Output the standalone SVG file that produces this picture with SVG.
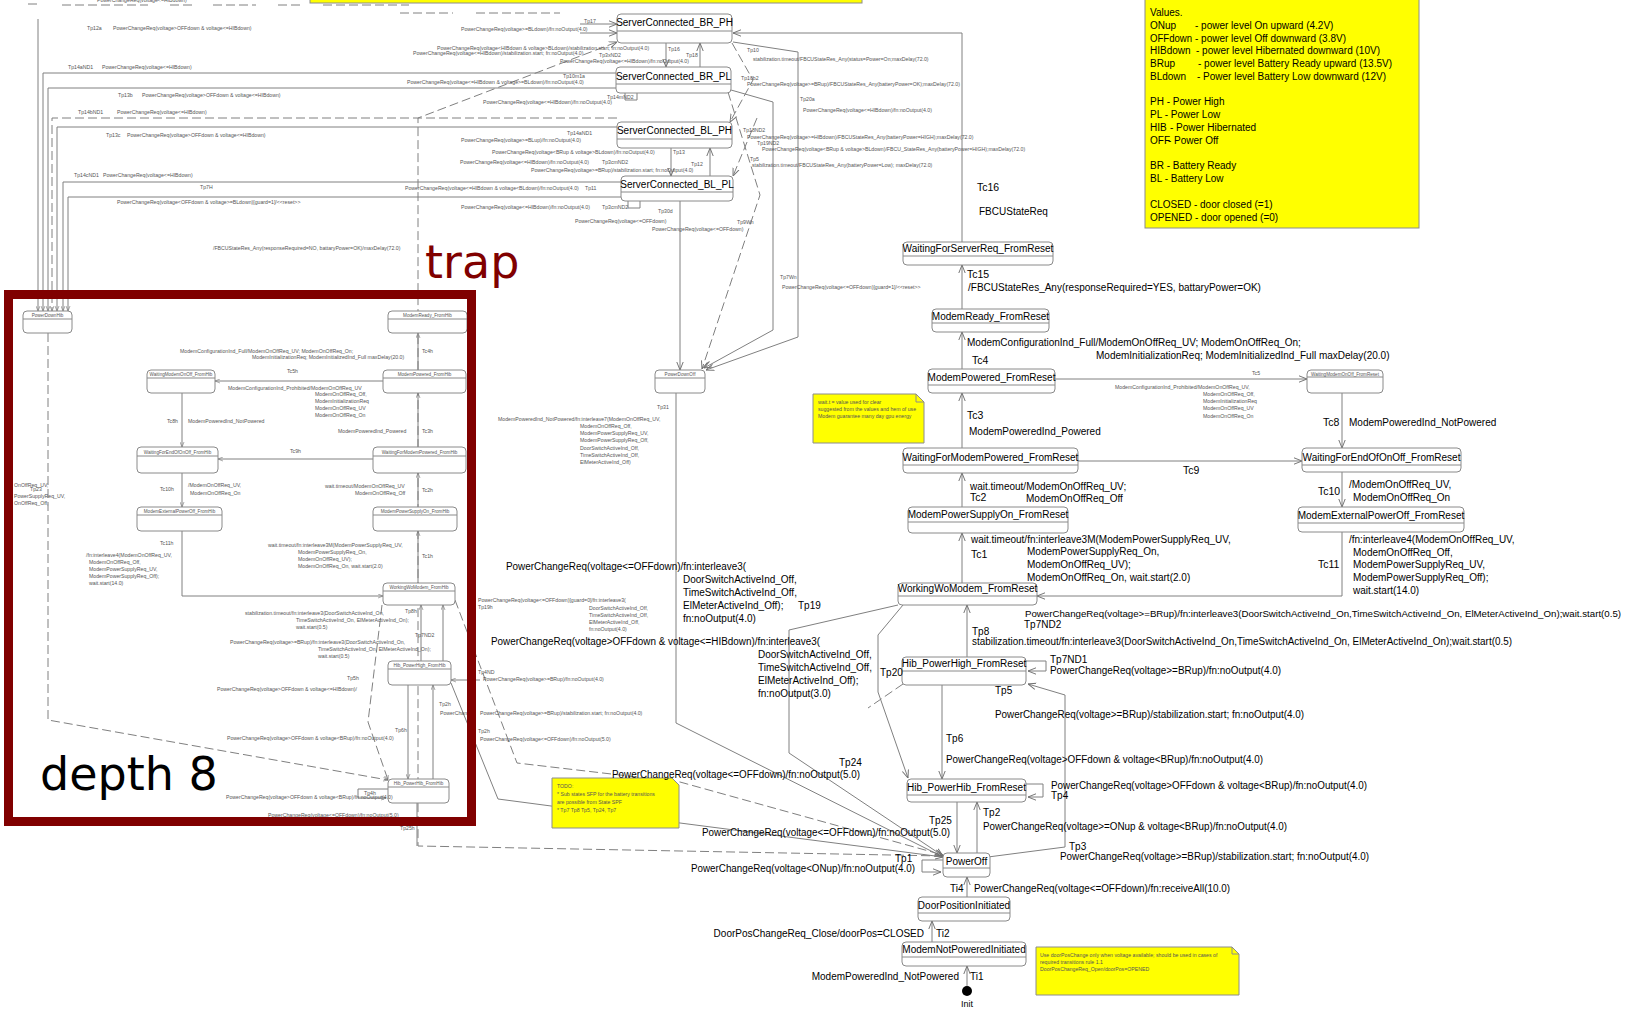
<svg xmlns="http://www.w3.org/2000/svg" width="1628" height="1009" viewBox="0 0 1628 1009">
<defs>
<marker id="ar" viewBox="0 0 10 10" refX="10" refY="5" markerWidth="8" markerHeight="8" orient="auto" markerUnits="userSpaceOnUse"><path d="M0,1 L10,5 L0,9" fill="none" stroke="#707070" stroke-width="1.2"/></marker>
<marker id="as" viewBox="0 0 10 10" refX="10" refY="5" markerWidth="5" markerHeight="5" orient="auto" markerUnits="userSpaceOnUse"><path d="M0,1 L10,5 L0,9" fill="none" stroke="#707070" stroke-width="1.2"/></marker>
</defs>
<style>
text{font-family:"Liberation Sans",Arial,sans-serif}
.l{font-size:10px;fill:#000}
.tc{font-size:10.5px;fill:#000}
.ti{font-size:5.2px;fill:#555}
.v{font-size:10px;fill:#000}
.nd rect.b{fill:#fff;stroke:#8a8a8a;stroke-width:1}
.nd line{stroke:#8a8a8a;stroke-width:1}
.nd text{font-size:10px;text-anchor:middle;fill:#000}
.sm text{font-size:4.6px;fill:#555}
.c path{fill:none;stroke:#808080;stroke-width:1;marker-end:url(#ar)}
.c path.s{marker-end:url(#as)}
.c path.n{marker-end:none}
.c path.d{stroke-dasharray:9 4}
.note{fill:#ffff00;stroke:#8c8c8c;stroke-width:1}
.big{font-family:"DejaVu Sans",sans-serif;font-size:46px}
</style>
<rect width="1628" height="1009" fill="#fff"/>

<!-- connectors -->
<g id="connectors" class="c">
  <path class="n d" d="M28,4 H38 M62,5 H148 M170,5 H192 M213,5 H256 M278,5 H300 M323,5 H409 M400,13 H453 M476,13 H560"/>
  <path class="s" d="M38,19 V311"/>
  <path class="s" d="M616,73 H43 V311"/>
  <path class="s" d="M616,88 H48 V311"/>
  <path class="s d" d="M617,118 H52 V311"/>
  <path class="s" d="M617,127 H57 V311"/>
  <path class="s" d="M621,182 H63 V311"/>
  <path class="s" d="M621,197 H68 V311"/>
  <path d="M580,24 H617"/>
  <path d="M580,33 H617"/>
  <path d="M666,43 V67"/>
  <path d="M700,67 V43"/>
  <path d="M671,148 V176"/>
  <path d="M710,176 V148"/>
  <path class="n" d="M625,93 V100 H637 V93"/>
  <path class="n" d="M628,201 V208 H640 V201"/>
  <path class="d" d="M732,43 L753,80 L730,122"/>
  <path class="d" d="M757,118 L733,176"/>
  <path class="d" d="M728,92 L760,195 L702,369"/>
  <path d="M733,42 L798,52 V337 L706,370"/>
  <path d="M731,90 L773,102 V330 L704,368"/>
  <path d="M680,201 V370"/>
  <path d="M943,856 L418,846 V118 L617,42" class="d"/>
  <path d="M962,242 V33 H733"/>
  <path d="M962,309 V265"/>
  <path d="M962,369 V332"/>
  <path d="M962,448 V393"/>
  <path d="M962,507 V473"/>
  <path d="M962,583 V533"/>
  <path d="M1055,379 H1307"/>
  <path d="M1342,393 V448"/>
  <path d="M1078,461 H1302"/>
  <path d="M1342,472 V507"/>
  <path d="M1342,532 V596 H1037"/>
  <path d="M967,657 V605"/>
  <path d="M1026,661 H1046 V671 H1028"/>
  <path d="M942,685 V779"/>
  <path d="M988,857 L1065,847 V695 L1028,684"/>
  <path d="M1026,784 H1043 V797 H1028"/>
  <path d="M957,802 V853"/>
  <path d="M977,853 V802"/>
  <path d="M943,860 H922 V872 H941"/>
  <path d="M967,897 V877"/>
  <path d="M932,942 V921"/>
  <path d="M967,986 V966"/>
  <path d="M898,605 L789,630 V753 L943,856"/>
  <path d="M903,605 L878,635 V692 L908,778"/>
  <path class="n d" d="M903,684 L868,708"/>
  <path d="M676,393 V723 L943,857"/>
  <path class="d" d="M455,600 L517,763 L680,782 L943,855"/>
  <path d="M451,683 L498,799 L680,823 L943,857"/>
  <path class="s" d="M418,370 V333"/>
  <path class="s" d="M383,381 H215"/>
  <path class="s" d="M182,393 V447"/>
  <path class="s" d="M418,447 V393"/>
  <path class="s" d="M373,459 H218"/>
  <path class="s" d="M418,507 V473"/>
  <path class="s" d="M182,473 V507"/>
  <path class="s" d="M418,583 V531"/>
  <path class="s" d="M182,531 V596 H383"/>
  <path class="s" d="M421,661 V605"/>
  <path class="s" d="M443,661 V605"/>
  <path class="s" d="M408,685 V779"/>
  <path class="s" d="M433,779 V685"/>
  <path class="s" d="M388,789 H358 V798 H386"/>
  <path class="s d" d="M48,333 V720 L388,780"/>
  <path class="s d" d="M382,605 L368,722 L388,780"/>
  <path class="n" d="M417,803 V846"/>
  <path class="s" d="M480,680 H451"/>
</g>

<!-- main nodes -->
<g id="ServerConnected_BR_PH" class="nd"><rect class="b" x="617" y="14" width="115" height="29" rx="4"/><line x1="617" y1="31" x2="732" y2="31"/><text x="674.5" y="26">ServerConnected_BR_PH</text></g>
<g id="ServerConnected_BR_PL" class="nd"><rect class="b" x="616" y="67" width="115" height="26" rx="4"/><line x1="616" y1="84" x2="731" y2="84"/><text x="673.5" y="80">ServerConnected_BR_PL</text></g>
<g id="ServerConnected_BL_PH" class="nd"><rect class="b" x="617" y="122" width="115" height="26" rx="4"/><line x1="617" y1="139" x2="732" y2="139"/><text x="674.5" y="134">ServerConnected_BL_PH</text></g>
<g id="ServerConnected_BL_PL" class="nd"><rect class="b" x="621" y="176" width="112" height="25" rx="4"/><line x1="621" y1="192" x2="733" y2="192"/><text x="677" y="188">ServerConnected_BL_PL</text></g>
<g id="WaitingForServerReq_FromReset" class="nd"><rect class="b" x="903" y="242" width="150" height="23" rx="4"/><line x1="903" y1="256" x2="1053" y2="256"/><text x="978" y="252">WaitingForServerReq_FromReset</text></g>
<g id="ModemReady_FromReset" class="nd"><rect class="b" x="932" y="309" width="117" height="23" rx="4"/><line x1="932" y1="323" x2="1049" y2="323"/><text x="990.5" y="320">ModemReady_FromReset</text></g>
<g id="ModemPowered_FromReset" class="nd"><rect class="b" x="928" y="369" width="127" height="24" rx="4"/><line x1="928" y1="385" x2="1055" y2="385"/><text x="991.5" y="380.5">ModemPowered_FromReset</text></g>
<g id="WaitingForModemPowered_FromReset" class="nd"><rect class="b" x="903" y="448" width="175" height="25" rx="4"/><line x1="903" y1="465" x2="1078" y2="465"/><text x="990.5" y="460.5">WaitingForModemPowered_FromReset</text></g>
<g id="ModemPowerSupplyOn_FromReset" class="nd"><rect class="b" x="908" y="507" width="160" height="26" rx="4"/><line x1="908" y1="522" x2="1068" y2="522"/><text x="988" y="517.5">ModemPowerSupplyOn_FromReset</text></g>
<g id="WorkingWoModem_FromReset" class="nd"><rect class="b" x="898" y="583" width="139" height="22" rx="4"/><line x1="898" y1="596" x2="1037" y2="596"/><text x="967.5" y="592">WorkingWoModem_FromReset</text></g>
<g id="WaitingModemOnOff_FromReset" class="nd sm"><rect class="b" x="1307" y="370" width="76" height="23" rx="4"/><line x1="1307" y1="377" x2="1383" y2="377"/><text x="1345" y="375.5">WaitingModemOnOff_FromReset</text></g>
<g id="WaitingForEndOfOnOff_FromReset" class="nd"><rect class="b" x="1302" y="448" width="159" height="24" rx="4"/><line x1="1302" y1="465" x2="1461" y2="465"/><text x="1381.5" y="460.5">WaitingForEndOfOnOff_FromReset</text></g>
<g id="ModemExternalPowerOff_FromReset" class="nd"><rect class="b" x="1298" y="507" width="166" height="25" rx="4"/><line x1="1298" y1="523" x2="1464" y2="523"/><text x="1381" y="518.5">ModemExternalPowerOff_FromReset</text></g>
<g id="Hib_PowerHigh_FromReset" class="nd"><rect class="b" x="902" y="657" width="124" height="28" rx="4"/><line x1="902" y1="671" x2="1026" y2="671"/><text x="964" y="666.5">Hib_PowerHigh_FromReset</text></g>
<g id="Hib_PowerHib_FromReset" class="nd"><rect class="b" x="907" y="779" width="119" height="23" rx="4"/><line x1="907" y1="795" x2="1026" y2="795"/><text x="966.5" y="790.5">Hib_PowerHib_FromReset</text></g>
<g id="PowerOff" class="nd"><rect class="b" x="943" y="853" width="47" height="24" rx="4"/><line x1="943" y1="868" x2="990" y2="868"/><text x="966.5" y="864.5">PowerOff</text></g>
<g id="DoorPositionInitiated" class="nd"><rect class="b" x="918" y="897" width="92" height="24" rx="4"/><line x1="918" y1="913" x2="1010" y2="913"/><text x="964" y="908.5">DoorPositionInitiated</text></g>
<g id="ModemNotPoweredInitiated" class="nd"><rect class="b" x="902" y="942" width="124" height="24" rx="4"/><line x1="902" y1="957" x2="1026" y2="957"/><text x="964" y="952.5">ModemNotPoweredInitiated</text></g>
<g id="Init"><circle cx="967" cy="991" r="5" fill="#000"/><text x="967" y="1007" text-anchor="middle" style="font-size:9px">Init</text></g>
<g id="PowerDownOff" class="nd sm"><rect class="b" x="655" y="370" width="50" height="23" rx="4"/><line x1="655" y1="378" x2="705" y2="378"/><text x="680" y="376">PowerDownOff</text></g>

<!-- frame nodes -->
<g id="PowerDownHib" class="nd sm"><rect class="b" x="23" y="311" width="49" height="22" rx="4"/><line x1="23" y1="319" x2="72" y2="319"/><text x="47.5" y="317">PowerDownHib</text></g>
<g id="ModemReady_FromHib" class="nd sm"><rect class="b" x="388" y="311" width="79" height="22" rx="4"/><line x1="388" y1="319" x2="467" y2="319"/><text x="427.5" y="317">ModemReady_FromHib</text></g>
<g id="ModemPowered_FromHib" class="nd sm"><rect class="b" x="383" y="370" width="83" height="23" rx="4"/><line x1="383" y1="378" x2="466" y2="378"/><text x="424.5" y="376">ModemPowered_FromHib</text></g>
<g id="WaitingModemOnOff_FromHib" class="nd sm"><rect class="b" x="147" y="370" width="68" height="23" rx="4"/><line x1="147" y1="378" x2="215" y2="378"/><text x="181" y="376">WaitingModemOnOff_FromHib</text></g>
<g id="WaitingForModemPowered_FromHib" class="nd sm"><rect class="b" x="373" y="447" width="93" height="26" rx="4"/><line x1="373" y1="456" x2="466" y2="456"/><text x="419.5" y="454">WaitingForModemPowered_FromHib</text></g>
<g id="WaitingForEndOfOnOff_FromHib" class="nd sm"><rect class="b" x="137" y="447" width="81" height="26" rx="4"/><line x1="137" y1="456" x2="218" y2="456"/><text x="177.5" y="454">WaitingForEndOfOnOff_FromHib</text></g>
<g id="ModemPowerSupplyOn_FromHib" class="nd sm"><rect class="b" x="373" y="507" width="84" height="24" rx="4"/><line x1="373" y1="515" x2="457" y2="515"/><text x="415" y="513">ModemPowerSupplyOn_FromHib</text></g>
<g id="ModemExternalPowerOff_FromHib" class="nd sm"><rect class="b" x="137" y="507" width="85" height="24" rx="4"/><line x1="137" y1="515" x2="222" y2="515"/><text x="179.5" y="513">ModemExternalPowerOff_FromHib</text></g>
<g id="WorkingWoModem_FromHib" class="nd sm"><rect class="b" x="383" y="583" width="72" height="22" rx="4"/><line x1="383" y1="591" x2="455" y2="591"/><text x="419" y="589">WorkingWoModem_FromHib</text></g>
<g id="Hib_PowerHigh_FromHib" class="nd sm"><rect class="b" x="388" y="661" width="63" height="24" rx="4"/><line x1="388" y1="669" x2="451" y2="669"/><text x="419.5" y="667">Hib_PowerHigh_FromHib</text></g>
<g id="Hib_PowerHib_FromHib" class="nd sm"><rect class="b" x="388" y="779" width="61" height="24" rx="4"/><line x1="388" y1="787" x2="449" y2="787"/><text x="418.5" y="785">Hib_PowerHib_FromHib</text></g>

<!-- notes -->
<g id="note_top"><rect class="note" x="310" y="-6" width="552" height="9"/></g>
<g id="note_values">
  <rect class="note" x="1145" y="-2" width="274" height="230"/>
  <text class="v" x="1150" y="16">Values.</text>
  <text class="v" y="29"><tspan x="1150">ONup</tspan><tspan x="1195">- power level On upward (4.2V)</tspan></text>
  <text class="v" y="42"><tspan x="1150" textLength="42" lengthAdjust="spacingAndGlyphs">OFFdown</tspan><tspan x="1195">- power level Off downward (3.8V)</tspan></text>
  <text class="v" y="54"><tspan x="1150">HIBdown</tspan><tspan x="1196">- power level Hibernated downward (10V)</tspan></text>
  <text class="v" y="67"><tspan x="1150">BRup</tspan><tspan x="1198">- power level Battery Ready upward (13.5V)</tspan></text>
  <text class="v" y="80"><tspan x="1150">BLdown</tspan><tspan x="1197">- Power level Battery Low downward (12V)</tspan></text>
  <text class="v" x="1150" y="105">PH - Power High</text>
  <text class="v" x="1150" y="118">PL - Power Low</text>
  <text class="v" y="131"><tspan x="1150">HIB</tspan><tspan x="1170">- Power Hibernated</tspan></text>
  <text class="v" y="144"><tspan x="1150">OFF</tspan><tspan x="1168">- Power Off</tspan></text>
  <text class="v" x="1150" y="169">BR - Battery Ready</text>
  <text class="v" x="1150" y="182">BL - Battery Low</text>
  <text class="v" x="1150" y="208">CLOSED - door closed  (=1)</text>
  <text class="v" x="1150" y="221">OPENED - door opened (=0)</text>
</g>
<g id="note_mid">
  <path class="note" d="M813,394 H916 L924,402 V443 H813 Z"/>
  <path d="M916,394 V402 H924" fill="none" stroke="#8c8c8c"/>
  <text class="ti" x="818" y="404">wait.t = value used for clear</text>
  <text class="ti" x="818" y="411">suggested from the values and hem of use</text>
  <text class="ti" x="818" y="418">Modem guarantee many day gpu energy</text>
</g>
<g id="note_todo">
  <path class="note" d="M552,778 H672 L679,785 V828 H552 Z"/>
  <text class="ti" x="557" y="788">TODO:</text>
  <text class="ti" x="557" y="796">* Sub states SFP for the battery transitions</text>
  <text class="ti" x="557" y="804">  are possible from State SPF</text>
  <text class="ti" x="557" y="812">* Tp7 Tp8 Tp5, Tp24, Tp7</text>
</g>
<g id="note_bottom">
  <path class="note" d="M1036,947 H1232 L1239,954 V995 H1036 Z"/>
  <path d="M1232,947 V954 H1239" fill="none" stroke="#8c8c8c"/>
  <text class="ti" x="1040" y="957">Use doorPosChange only when voltage available; should be used in cases of</text>
  <text class="ti" x="1040" y="964">required transitions rule 1.1</text>
  <text class="ti" x="1040" y="971">DoorPosChangeReq_Open/doorPos=OPENED</text>
</g>

<!-- labels main -->
<g id="labels_main">
  <text class="tc" x="977" y="191">Tc16</text>
  <text class="l" x="979" y="215">FBCUStateReq</text>
  <text class="tc" x="967" y="278">Tc15</text>
  <text class="l" x="968" y="291">/FBCUStateRes_Any(responseRequired=YES, battaryPower=OK)</text>
  <text class="l" x="967" y="346">ModemConfigurationInd_Full/ModemOnOffReq_UV; ModemOnOffReq_On;</text>
  <text class="l" x="1096" y="359">ModemInitializationReq; ModemInitializedInd_Full maxDelay(20.0)</text>
  <text class="tc" x="972" y="364">Tc4</text>
  <text class="tc" x="967" y="419">Tc3</text>
  <text class="l" x="969" y="435">ModemPoweredInd_Powered</text>
  <text class="l" x="970" y="490">wait.timeout/ModemOnOffReq_UV;</text>
  <text class="tc" x="970" y="501">Tc2</text>
  <text class="l" x="1026" y="502">ModemOnOffReq_Off</text>
  <text class="l" x="971" y="543">wait.timeout/fn:interleave3M(ModemPowerSupplyReq_UV,</text>
  <text class="tc" x="971" y="558">Tc1</text>
  <text class="l" x="1027" y="555">ModemPowerSupplyReq_On,</text>
  <text class="l" x="1027" y="568">ModemOnOffReq_UV);</text>
  <text class="l" x="1027" y="581">ModemOnOffReq_On, wait.start(2.0)</text>
  <text class="ti" x="1252" y="375">Tc5</text>
  <text class="ti" x="1115" y="389">ModemConfigurationInd_Prohibited/ModemOnOffReq_UV,</text>
  <text class="ti" x="1203" y="396">ModemOnOffReq_Off,</text>
  <text class="ti" x="1203" y="403">ModemInitializationReq</text>
  <text class="ti" x="1203" y="410">ModemOnOffReq_UV</text>
  <text class="ti" x="1203" y="418">ModemOnOffReq_On</text>
  <text class="tc" x="1323" y="426">Tc8</text>
  <text class="l" x="1349" y="426">ModemPoweredInd_NotPowered</text>
  <text class="tc" x="1183" y="474">Tc9</text>
  <text class="tc" x="1318" y="495">Tc10</text>
  <text class="l" x="1349" y="488">/ModemOnOffReq_UV,</text>
  <text class="l" x="1353" y="501">ModemOnOffReq_On</text>
  <text class="tc" x="1318" y="568">Tc11</text>
  <text class="l" x="1349" y="543">/fn:interleave4(ModemOnOffReq_UV,</text>
  <text class="l" x="1353" y="556">ModemOnOffReq_Off,</text>
  <text class="l" x="1353" y="568">ModemPowerSupplyReq_UV,</text>
  <text class="l" x="1353" y="581">ModemPowerSupplyReq_Off);</text>
  <text class="l" x="1353" y="594">wait.start(14.0)</text>

  <text x="1025" y="617" style="font-size:8.8px" textLength="596" lengthAdjust="spacingAndGlyphs">PowerChangeReq(voltage&gt;=BRup)/fn:interleave3(DoorSwitchActiveInd_On,TimeSwitchActiveInd_On, ElMeterActiveInd_On);wait.start(0.5)</text>
  <text class="l" x="1024" y="628">Tp7ND2</text>
  <text class="l" x="972" y="635">Tp8</text>
  <text class="l" x="972" y="645" textLength="540" lengthAdjust="spacingAndGlyphs">stabilization.timeout/fn:interleave3(DoorSwitchActiveInd_On,TimeSwitchActiveInd_On, ElMeterActiveInd_On);wait.start(0.5)</text>
  <text class="l" x="1050" y="663">Tp7ND1</text>
  <text class="l" x="1050" y="674" textLength="231" lengthAdjust="spacingAndGlyphs">PowerChangeReq(voltage&gt;=BRup)/fn:noOutput(4.0)</text>
  <text class="l" x="995" y="694">Tp5</text>
  <text class="l" x="995" y="718" textLength="309" lengthAdjust="spacingAndGlyphs">PowerChangeReq(voltage&gt;=BRup)/stabilization.start; fn:noOutput(4.0)</text>
  <text class="l" x="946" y="742">Tp6</text>
  <text class="l" x="946" y="763" textLength="317" lengthAdjust="spacingAndGlyphs">PowerChangeReq(voltage&gt;OFFdown &amp; voltage&lt;BRup)/fn:noOutput(4.0)</text>
  <text class="l" x="1051" y="789" textLength="316" lengthAdjust="spacingAndGlyphs">PowerChangeReq(voltage&gt;OFFdown &amp; voltage&lt;BRup)/fn:noOutput(4.0)</text>
  <text class="l" x="1051" y="799">Tp4</text>
  <text class="l" x="929" y="824">Tp25</text>
  <text class="l" x="983" y="816">Tp2</text>
  <text class="l" x="983" y="830" textLength="304" lengthAdjust="spacingAndGlyphs">PowerChangeReq(voltage&gt;=ONup &amp; voltage&lt;BRup)/fn:noOutput(4.0)</text>
  <text class="l" x="1069" y="850">Tp3</text>
  <text class="l" x="1060" y="860" textLength="309" lengthAdjust="spacingAndGlyphs">PowerChangeReq(voltage&gt;=BRup)/stabilization.start; fn:noOutput(4.0)</text>
  <text class="l" x="702" y="836" textLength="248" lengthAdjust="spacingAndGlyphs">PowerChangeReq(voltage&lt;=OFFdown)/fn:noOutput(5.0)</text>
  <text class="l" x="895" y="862">Tp1</text>
  <text class="l" x="691" y="872" textLength="224" lengthAdjust="spacingAndGlyphs">PowerChangeReq(voltage&lt;ONup)/fn:noOutput(4.0)</text>
  <text class="l" x="950" y="892">Ti4</text>
  <text class="l" x="974" y="892" textLength="256" lengthAdjust="spacingAndGlyphs">PowerChangeReq(voltage&lt;=OFFdown)/fn:receiveAll(10.0)</text>
  <text class="l" x="924" y="937" text-anchor="end">DoorPosChangeReq_Close/doorPos=CLOSED</text>
  <text class="l" x="936" y="937">Ti2</text>
  <text class="l" x="959" y="980" text-anchor="end">ModemPoweredInd_NotPowered</text>
  <text class="l" x="970" y="980">Ti1</text>

  <text class="l" x="506" y="570" textLength="240" lengthAdjust="spacingAndGlyphs">PowerChangeReq(voltage&lt;=OFFdown)/fn:interleave3(</text>
  <text class="l" x="683" y="583">DoorSwitchActiveInd_Off,</text>
  <text class="l" x="683" y="596">TimeSwitchActiveInd_Off,</text>
  <text class="l" x="683" y="609">ElMeterActiveInd_Off);</text>
  <text class="l" x="798" y="609">Tp19</text>
  <text class="l" x="683" y="622">fn:noOutput(4.0)</text>
  <text class="l" x="491" y="645" textLength="329" lengthAdjust="spacingAndGlyphs">PowerChangeReq(voltage&gt;OFFdown &amp; voltage&lt;=HIBdown)/fn:interleave3(</text>
  <text class="l" x="758" y="658">DoorSwitchActiveInd_Off,</text>
  <text class="l" x="758" y="671">TimeSwitchActiveInd_Off,</text>
  <text class="l" x="880" y="676">Tp20</text>
  <text class="l" x="758" y="684">ElMeterActiveInd_Off);</text>
  <text class="l" x="758" y="697">fn:noOutput(3.0)</text>
  <text class="l" x="839" y="766">Tp24</text>
  <text class="l" x="612" y="778" textLength="248" lengthAdjust="spacingAndGlyphs">PowerChangeReq(voltage&lt;=OFFdown)/fn:noOutput(5.0)</text>
</g>

<!-- tiny labels -->
<g id="labels_tiny">
  <text class="ti" x="97" y="2">PowerChangeReq(voltage&lt;=HIBdown)</text>
  <text class="ti" x="87" y="30">Tp12a</text>
  <text class="ti" x="113" y="30">PowerChangeReq(voltage&gt;OFFdown &amp; voltage&lt;=HIBdown)</text>
  <text class="ti" x="68" y="69">Tp14aND1</text>
  <text class="ti" x="102" y="69">PowerChangeReq(voltage&lt;=HIBdown)</text>
  <text class="ti" x="118" y="97">Tp13b</text>
  <text class="ti" x="142" y="97">PowerChangeReq(voltage&gt;OFFdown &amp; voltage&lt;=HIBdown)</text>
  <text class="ti" x="78" y="114">Tp14bND1</text>
  <text class="ti" x="117" y="114">PowerChangeReq(voltage&lt;=HIBdown)</text>
  <text class="ti" x="106" y="137">Tp13c</text>
  <text class="ti" x="127" y="137">PowerChangeReq(voltage&gt;OFFdown &amp; voltage&lt;=HIBdown)</text>
  <text class="ti" x="74" y="177">Tp14cND1</text>
  <text class="ti" x="103" y="177">PowerChangeReq(voltage&lt;=HIBdown)</text>
  <text class="ti" x="200" y="189">Tp7H</text>
  <text class="ti" x="117" y="204">PowerChangeReq(voltage&lt;OFFdown &amp; voltage&gt;=BLdown)[guard=1]/&lt;&lt;reset&gt;&gt;</text>
  <text class="ti" x="213" y="250">/FBCUStateRes_Any(responseRequired=NO, battaryPower=OK)/maxDelay(72.0)</text>

  <text class="ti" x="584" y="23">Tp17</text>
  <text class="ti" x="461" y="31">PowerChangeReq(voltage&gt;=BLdown)/fn:noOutput(4.0)</text>
  <text class="ti" x="437" y="50">PowerChangeReq(voltage&lt;HIBdown &amp; voltage&gt;BLdown)/stabilization.start; fn:noOutput(4.0)</text>
  <text class="ti" x="668" y="51">Tp16</text>
  <text class="ti" x="413" y="55">PowerChangeReq(voltage&lt;=HIBdown)/stabilization.start; fn:noOutput(4.0)</text>
  <text class="ti" x="599" y="57">Tp3xND2</text>
  <text class="ti" x="686" y="57">Tp18</text>
  <text class="ti" x="560" y="63">PowerChangeReq(voltage&lt;=HIBdown)/fn:noOutput(4.0)</text>
  <text class="ti" x="563" y="78">Tp10m1a</text>
  <text class="ti" x="407" y="84">PowerChangeReq(voltage&lt;=HIBdown &amp; voltage&gt;=BLdown)/fn:noOutput(4.0)</text>
  <text class="ti" x="607" y="99">Tp14mND2</text>
  <text class="ti" x="483" y="104">PowerChangeReq(voltage&lt;=HIBdown)/fn:noOutput(4.0)</text>
  <text class="ti" x="567" y="135">Tp14aND1</text>
  <text class="ti" x="461" y="142">PowerChangeReq(voltage&gt;=BLup)/fn:noOutput(4.0)</text>
  <text class="ti" x="492" y="154">PowerChangeReq(voltage&lt;BRup &amp; voltage&gt;BLdown)/fn:noOutput(4.0)</text>
  <text class="ti" x="673" y="154">Tp13</text>
  <text class="ti" x="460" y="164">PowerChangeReq(voltage&lt;=HIBdown)/fn:noOutput(4.0)</text>
  <text class="ti" x="602" y="164">Tp3cmND2</text>
  <text class="ti" x="691" y="166">Tp12</text>
  <text class="ti" x="531" y="172">PowerChangeReq(voltage&gt;=BRup)/stabilization.start; fn:noOutput(4.0)</text>
  <text class="ti" x="405" y="190">PowerChangeReq(voltage&lt;=HIBdown &amp; voltage&lt;BLdown)/fn:noOutput(4.0)</text>
  <text class="ti" x="585" y="190">Tp11</text>
  <text class="ti" x="461" y="209">PowerChangeReq(voltage&lt;=HIBdown)/fn:noOutput(4.0)</text>
  <text class="ti" x="602" y="209">Tp3cmND2</text>
  <text class="ti" x="658" y="213">Tp30d</text>
  <text class="ti" x="575" y="223">PowerChangeReq(voltage&lt;=OFFdown)</text>
  <text class="ti" x="737" y="224">Tp9Wn</text>
  <text class="ti" x="652" y="231">PowerChangeReq(voltage&lt;=OFFdown)</text>
  <text class="ti" x="780" y="279">Tp7Wn</text>
  <text class="ti" x="782" y="289">PowerChangeReq(voltage&lt;=OFFdown)[guard=1]/&lt;&lt;reset&gt;&gt;</text>

  <text class="ti" x="747" y="52">Tp10</text>
  <text class="ti" x="753" y="61">stabilization.timeout/FBCUStateRes_Any(status=Power=On;maxDelay(72.0)</text>
  <text class="ti" x="741" y="80">Tp10b2</text>
  <text class="ti" x="747" y="86">PowerChangeReq(voltage&gt;=BRup)/FBCUStateRes_Any(batteryPower=OK);maxDelay(72.0)</text>
  <text class="ti" x="800" y="101">Tp20a</text>
  <text class="ti" x="803" y="112">PowerChangeReq(voltage&lt;=HIBdown)/fn:noOutput(4.0)</text>
  <text class="ti" x="743" y="132">Tp18ND2</text>
  <text class="ti" x="747" y="139">PowerChangeReq(voltage&gt;=HIBdown)/FBCUStateRes_Any(batteryPower=HIGH);maxDelay(72.0)</text>
  <text class="ti" x="757" y="145">Tp19ND2</text>
  <text class="ti" x="762" y="151">PowerChangeReq(voltage&lt;BRup &amp; voltage&gt;BLdown)/FBCU_StateRes_Any(batteryPower=HIGH);maxDelay(72.0)</text>
  <text class="ti" x="750" y="161">Tp5</text>
  <text class="ti" x="752" y="167">stabilization.timeout/FBCUStateRes_Any(batteryPower=Low); maxDelay(72.0)</text>

  <text class="ti" x="657" y="409">Tp31</text>
  <text class="ti" x="498" y="421">ModemPoweredInd_NotPowered/fn:interleave7(ModemOnOffReq_UV,</text>
  <text class="ti" x="580" y="428">ModemOnOffReq_Off,</text>
  <text class="ti" x="580" y="435">ModemPowerSupplyReq_UV,</text>
  <text class="ti" x="580" y="442">ModemPowerSupplyReq_Off,</text>
  <text class="ti" x="580" y="450">DoorSwitchActiveInd_Off,</text>
  <text class="ti" x="580" y="457">TimeSwitchActiveInd_Off,</text>
  <text class="ti" x="580" y="464">ElMeterActiveInd_Off)</text>

  <text class="ti" x="478" y="602">PowerChangeReq(voltage&lt;=OFFdown)[guard=0]/fn:interleave3(</text>
  <text class="ti" x="478" y="609">Tp19h</text>
  <text class="ti" x="589" y="610">DoorSwitchActiveInd_Off,</text>
  <text class="ti" x="589" y="617">TimeSwitchActiveInd_Off,</text>
  <text class="ti" x="589" y="624">ElMeterActiveInd_Off,</text>
  <text class="ti" x="589" y="631">fn:noOutput(4.0)</text>
  <text class="ti" x="478" y="674">Tp4ND</text>
  <text class="ti" x="483" y="681">PowerChangeReq(voltage&gt;=BRup)/fn:noOutput(4.0)</text>
  <text class="ti" x="480" y="715">PowerChangeReq(voltage&gt;=BRup)/stabilization.start; fn:noOutput(4.0)</text>
  <text class="ti" x="478" y="733">Tp2h</text>
  <text class="ti" x="480" y="741">PowerChangeReq(voltage&lt;=OFFdown)/fn:noOutput(5.0)</text>

  <text class="ti" x="180" y="353">ModemConfigurationInd_Full/ModemOnOffReq_UV; ModemOnOffReq_On;</text>
  <text class="ti" x="252" y="359">ModemInitializationReq; ModemInitializedInd_Full maxDelay(20.0)</text>
  <text class="ti" x="422" y="353">Tc4h</text>
  <text class="ti" x="287" y="373">Tc5h</text>
  <text class="ti" x="228" y="390">ModemConfigurationInd_Prohibited/ModemOnOffReq_UV</text>
  <text class="ti" x="315" y="396">ModemOnOffReq_Off,</text>
  <text class="ti" x="315" y="403">ModemInitializationReq</text>
  <text class="ti" x="315" y="410">ModemOnOffReq_UV</text>
  <text class="ti" x="315" y="417">ModemOnOffReq_On</text>
  <text class="ti" x="167" y="423">Tc8h</text>
  <text class="ti" x="188" y="423">ModemPoweredInd_NotPowered</text>
  <text class="ti" x="338" y="433">ModemPoweredInd_Powered</text>
  <text class="ti" x="422" y="433">Tc3h</text>
  <text class="ti" x="290" y="453">Tc9h</text>
  <text class="ti" x="325" y="488">wait.timeout/ModemOnOffReq_UV</text>
  <text class="ti" x="355" y="495">ModemOnOffReq_Off</text>
  <text class="ti" x="422" y="492">Tc2h</text>
  <text class="ti" x="160" y="491">Tc10h</text>
  <text class="ti" x="188" y="487">/ModemOnOffReq_UV,</text>
  <text class="ti" x="190" y="495">ModemOnOffReq_On</text>
  <text class="ti" x="160" y="545">Tc11h</text>
  <text class="ti" x="86" y="557">/fn:interleave4(ModemOnOffReq_UV,</text>
  <text class="ti" x="89" y="564">ModemOnOffReq_Off,</text>
  <text class="ti" x="89" y="571">ModemPowerSupplyReq_UV,</text>
  <text class="ti" x="89" y="578">ModemPowerSupplyReq_Off);</text>
  <text class="ti" x="89" y="585">wait.start(14.0)</text>
  <text class="ti" x="268" y="547">wait.timeout/fn:interleave3M(ModemPowerSupplyReq_UV,</text>
  <text class="ti" x="298" y="554">ModemPowerSupplyReq_On,</text>
  <text class="ti" x="298" y="561">ModemOnOffReq_UV);</text>
  <text class="ti" x="298" y="568">ModemOnOffReq_On, wait.start(2.0)</text>
  <text class="ti" x="422" y="558">Tc1h</text>
  <text class="ti" x="245" y="615">stabilization.timeout/fn:interleave3(DoorSwitchActiveInd_On,</text>
  <text class="ti" x="296" y="622">TimeSwitchActiveInd_On, ElMeterActiveInd_On);</text>
  <text class="ti" x="296" y="629">wait.start(0.5)</text>
  <text class="ti" x="405" y="613">Tp8h</text>
  <text class="ti" x="415" y="637">Tp7ND2</text>
  <text class="ti" x="230" y="644">PowerChangeReq(voltage&gt;=BRup)/fn:interleave3(DoorSwitchActiveInd_On,</text>
  <text class="ti" x="318" y="651">TimeSwitchActiveInd_On, ElMeterActiveInd_On);</text>
  <text class="ti" x="318" y="658">wait.start(0.5)</text>
  <text class="ti" x="347" y="680">Tp5h</text>
  <text class="ti" x="217" y="691">PowerChangeReq(voltage&gt;OFFdown &amp; voltage&lt;=HIBdown)/</text>
  <text class="ti" x="439" y="706">Tp2h</text>
  <text class="ti" x="440" y="715">PowerChange</text>
  <text class="ti" x="395" y="732">Tp6h</text>
  <text class="ti" x="227" y="740">PowerChangeReq(voltage&gt;OFFdown &amp; voltage&lt;BRup)/fn:noOutput(4.0)</text>
  <text class="ti" x="226" y="799">PowerChangeReq(voltage&gt;OFFdown &amp; voltage&lt;BRup)/fn:noOutput(4.0)</text>
  <text class="ti" x="364" y="795">Tp4h</text>
  <text class="ti" x="268" y="817">PowerChangeReq(voltage&lt;=OFFdown)/fn:noOutput(5.0)</text>
  <text class="ti" x="400" y="830">Tp25h</text>
  <text class="ti" x="14" y="487">OnOffReq_UV,</text>
  <text class="ti" x="30" y="491">Tp23</text>
  <text class="ti" x="14" y="498">PowerSupplyReq_UV,</text>
  <text class="ti" x="14" y="505">OnOffReq_Off,</text>
</g>

<!-- frame and captions -->
<g id="frame">
  <rect x="8.5" y="294.5" width="463" height="527" fill="none" stroke="#800000" stroke-width="9"/>
  <text class="big" x="425" y="278" fill="#800000">trap</text>
  <text class="big" x="40" y="790" fill="#000">depth 8</text>
</g>
</svg>
